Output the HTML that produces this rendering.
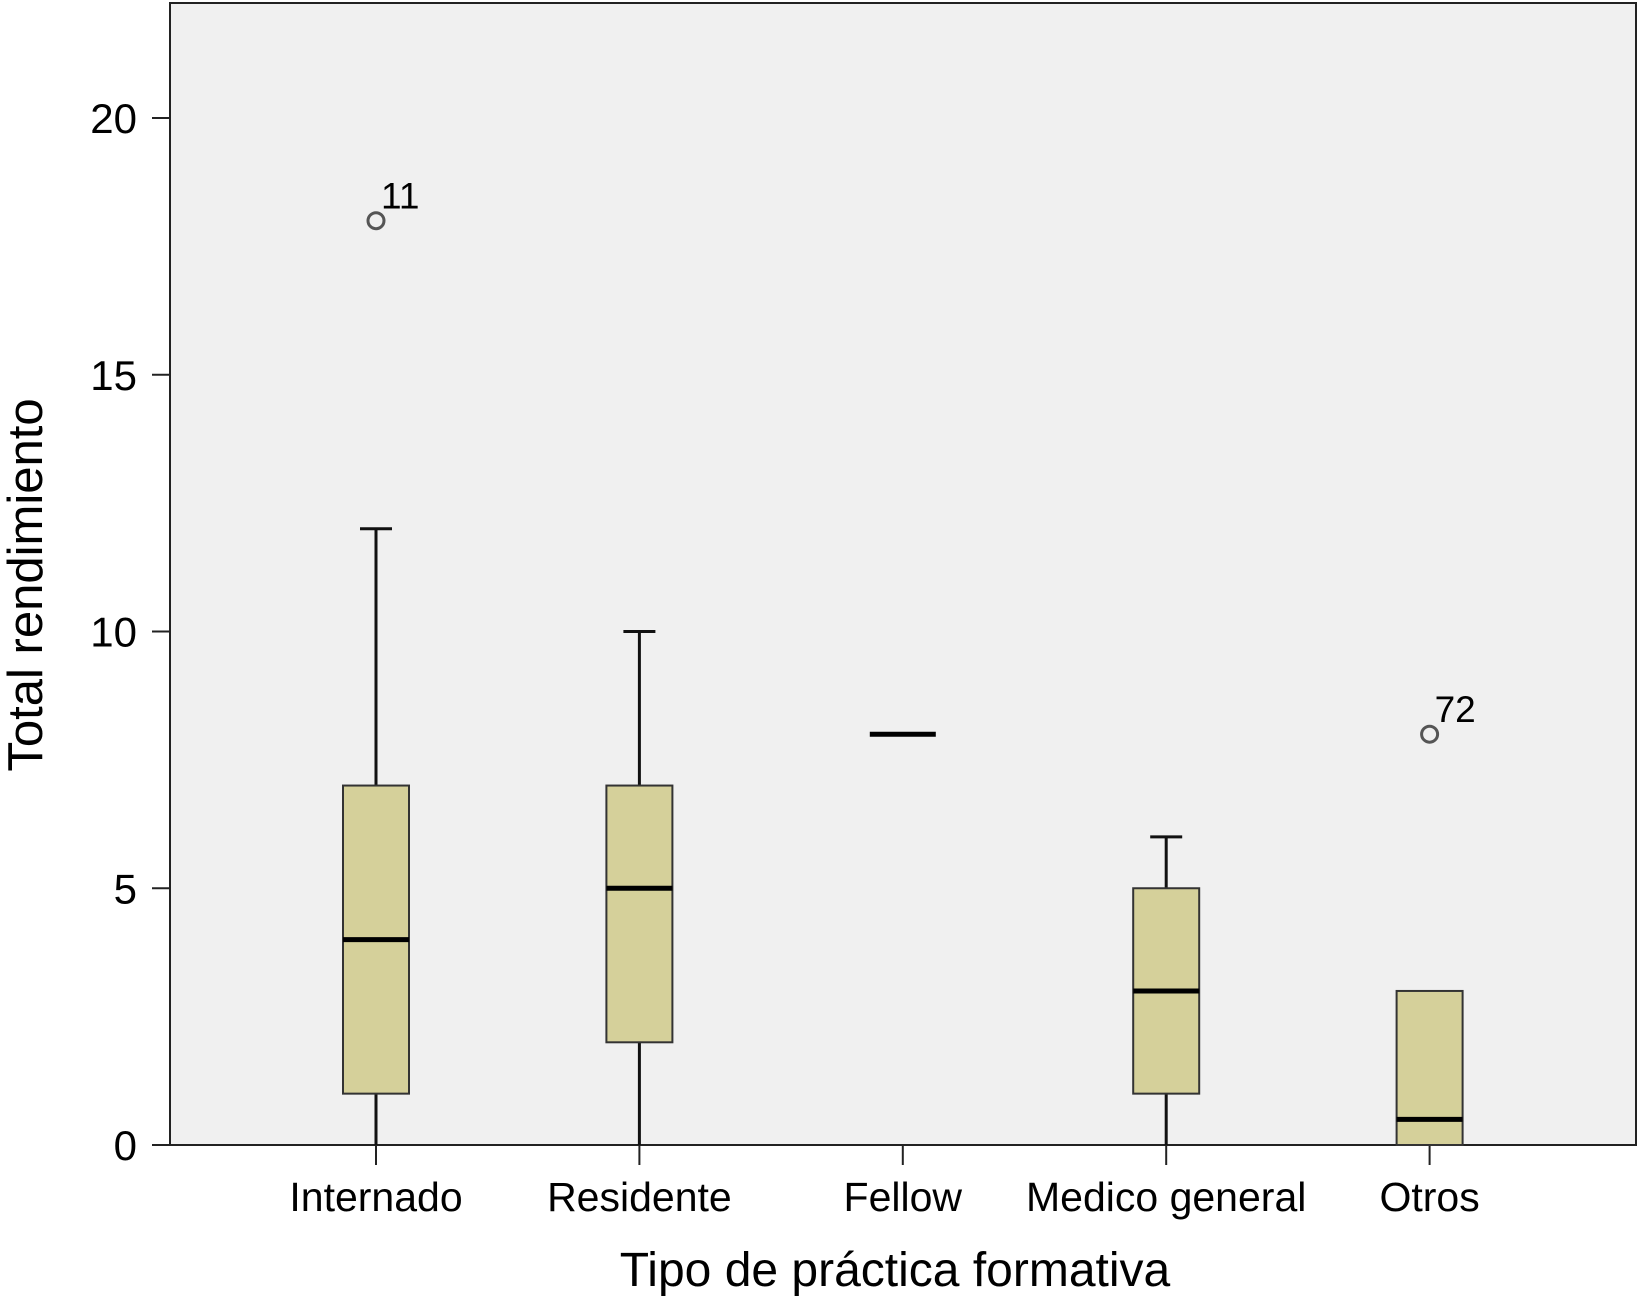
<!DOCTYPE html>
<html><head><meta charset="utf-8"><style>
html,body{margin:0;padding:0;background:#fff;}
svg text{font-family:"Liberation Sans",sans-serif;fill:#000;}
</style></head><body>
<svg id="chart" width="1639" height="1296" xmlns="http://www.w3.org/2000/svg">
<rect x="170" y="3" width="1466" height="1142" fill="#f0f0f0" stroke="#222" stroke-width="2"/>
<g id="g"></g>
<text x="42" y="585" font-size="49" text-anchor="middle" transform="rotate(-90 42 585)">Total rendimiento</text>
<text x="895" y="1286" font-size="48" text-anchor="middle">Tipo de práctica formativa</text>
</svg>
<script>
const categories=["Internado","Residente","Fellow","Medico general","Otros"];
const mins=[0,0,8,0,0];
const q1s=[1,2,8,1,0];
const medians=[4,5,8,3,0.5];
const q3s=[7,7,8,5,3];
const maxs=[12,10,8,6,3];
const outlierValues=[[18],[],[],[],[8]];
const outlierLabels=[["11"],[],[],[],["72"]];
const yTicks=[0,5,10,15,20];
const NS="http://www.w3.org/2000/svg";
const g=document.getElementById('g');
function y(v){return 1145-v*51.35;}
function x(i){return 376+i*263.4;}
function mk(t,a){const e=document.createElementNS(NS,t);for(const k in a)e.setAttribute(k,a[k]);g.appendChild(e);return e;}
yTicks.forEach(v=>{
  const l=mk('line',{x1:152,x2:170,y1:y(v),y2:y(v),stroke:'#222','stroke-width':2});
  
  
  const t=mk('text',{x:137,y:y(v)+15,'font-size':42,'text-anchor':'end'});t.textContent=v;
  
  
});
categories.forEach((c,i)=>{
  const cx=x(i),w=66;
  const tk=mk('line',{x1:cx,x2:cx,y1:1145,y2:1165,stroke:'#222','stroke-width':2});
  
  
  const t=mk('text',{x:cx,y:1211,'font-size':41,'text-anchor':'middle'});t.textContent=c;
  
  
  if(maxs[i]>q3s[i]){const wl=mk('line',{x1:cx,x2:cx,y1:y(q3s[i]),y2:y(maxs[i]),stroke:'#111','stroke-width':3});
    
    
    const cap=mk('line',{x1:cx-16,x2:cx+16,y1:y(maxs[i]),y2:y(maxs[i]),stroke:'#111','stroke-width':3});
    
    }
  if(q1s[i]>mins[i]){const wl=mk('line',{x1:cx,x2:cx,y1:y(q1s[i]),y2:y(mins[i]),stroke:'#111','stroke-width':3});
    
    }
  if(q3s[i]>q1s[i]){const b=mk('rect',{x:cx-w/2,y:y(q3s[i]),width:w,height:y(q1s[i])-y(q3s[i]),fill:'#d5d09a',stroke:'#333','stroke-width':2});
    
    }
  const m=mk('line',{x1:cx-w/2,x2:cx+w/2,y1:y(medians[i]),y2:y(medians[i]),stroke:'#000','stroke-width':5});
  
  
  outlierValues[i].forEach((v,j)=>{
    const o=mk('circle',{cx:cx,cy:y(v),r:8,fill:'none',stroke:'#555','stroke-width':3});
    
    
    const ol=mk('text',{x:cx+5,y:y(v)-12,'font-size':37});ol.textContent=outlierLabels[i][j];
    
    
  });
});
</script>
</body></html>
